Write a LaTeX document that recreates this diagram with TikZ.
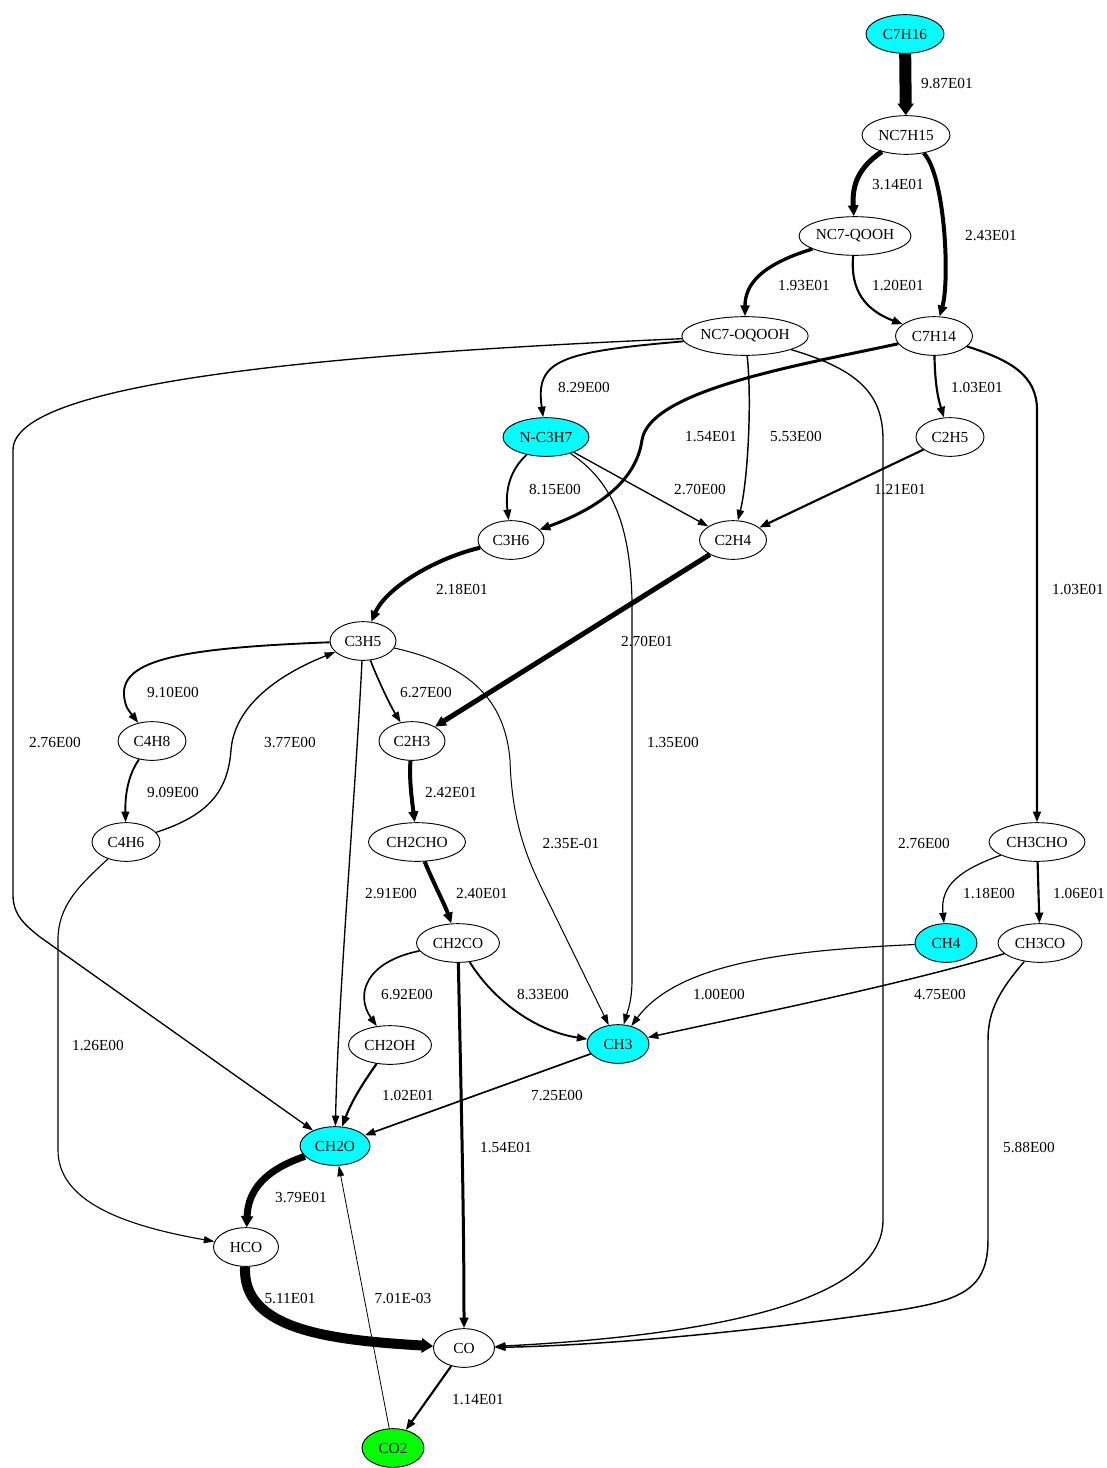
\documentclass[tikz,border=0pt]{standalone}
\usepackage{fontspec}
\setmainfont{Liberation Serif}
\usetikzlibrary{shapes.geometric,arrows.meta}
\definecolor{cy}{HTML}{00FFFF}
\definecolor{gr}{HTML}{00FF00}
\newcommand{\lblfont}{\fontsize{11.5}{13}\selectfont}
\begin{document}
\begin{tikzpicture}[x=0.75pt,y=-0.75pt,
  nd/.style={ellipse,draw,line width=0.7pt,inner sep=0pt,minimum height=29pt,minimum width=#1*0.75pt,font=\lblfont},
  cnd/.style={nd=#1,fill=cy},
  gnd/.style={nd=#1,fill=gr},
  lbl/.style={inner sep=0pt,font=\lblfont},
  edg/.style={draw,line width=#1,-{Triangle[length=7.8pt 0.1,width=4.6pt 0.8]}}]
\fill[white] (0,0) rectangle (1107,1468);
\useasboundingbox (0,0) rectangle (1107,1468);
% nodes
\node[cnd=78] (C7H16) at (905,34) {C7H16};
\node[nd=88] (NC7H15) at (906,135) {NC7H15};
\node[nd=112] (NC7QOOH) at (855,236) {NC7-QOOH};
\node[nd=122] (NC7OQOOH) at (745,336) {NC7-OQOOH};
\node[nd=77] (C7H14) at (934,336) {C7H14};
\node[cnd=86] (NC3H7) at (546,437) {N-C3H7};
\node[nd=68] (C2H5) at (950,437) {C2H5};
\node[nd=66] (C3H6) at (511,540) {C3H6};
\node[nd=67] (C2H4) at (733,540) {C2H4};
\node[nd=66] (C3H5) at (363,641) {C3H5};
\node[nd=68] (C4H8) at (152,741) {C4H8};
\node[nd=66] (C2H3) at (412,741) {C2H3};
\node[nd=68] (C4H6) at (126,842) {C4H6};
\node[nd=97] (CH2CHO) at (417,842) {CH2CHO};
\node[nd=96] (CH3CHO) at (1037,842) {CH3CHO};
\node[nd=83] (CH2CO) at (458,943) {CH2CO};
\node[cnd=62] (CH4) at (946,943) {CH4};
\node[nd=84] (CH3CO) at (1040,943) {CH3CO};
\node[nd=83] (CH2OH) at (390,1045) {CH2OH};
\node[cnd=62] (CH3) at (618,1044) {CH3};
\node[cnd=70] (CH2O) at (335,1146) {CH2O};
\node[nd=65] (HCO) at (246,1247) {HCO};
\node[nd=61] (CO) at (464,1348) {CO};
\node[gnd=62] (CO2) at (393,1448) {CO2};
% edges
\draw[edg=9pt] (C7H16) -- (NC7H15);
\draw[edg=3.75pt] (NC7H15) .. controls (858,168) and (852,185) .. (NC7QOOH);
\draw[edg=3pt] (NC7H15) .. controls (945,175) and (950,280) .. (C7H14);
\draw[edg=2.5pt] (NC7QOOH) .. controls (760,265) and (745,285) .. (NC7OQOOH);
\draw[edg=1.6pt] (NC7QOOH) .. controls (850,290) and (865,310) .. (C7H14);
\draw[edg=1pt] (NC7OQOOH) .. controls (300,355) and (13,385) .. (13,450) -- (13,895)
   .. controls (13,915) and (25,925) .. (40,937) -- (CH2O);
\draw[edg=1.4pt] (NC7OQOOH) .. controls (560,352) and (535,360) .. (NC3H7);
\draw[edg=1.1pt] (NC7OQOOH) .. controls (752,400) and (748,480) .. (C2H4);
\draw[edg=1pt] (NC7OQOOH) .. controls (860,370) and (883,395) .. (883,440) -- (883,1220)
   .. controls (883,1300) and (720,1335) .. (CO);
\draw[edg=2.25pt] (C7H14) .. controls (800,365) and (650,390) .. (642,440)
   .. controls (635,490) and (580,515) .. (C3H6);
\draw[edg=1.6pt] (C7H14) .. controls (935,380) and (937,395) .. (C2H5);
\draw[edg=1.6pt] (C7H14) .. controls (1010,360) and (1037,375) .. (1037,410) -- (CH3CHO);
\draw[edg=1.4pt] (NC3H7) .. controls (510,470) and (505,490) .. (C3H6);
\draw[edg=1pt] (NC3H7) -- (C2H4);
\draw[edg=0.85pt] (NC3H7) .. controls (610,480) and (630,520) .. (632,600) -- (632,980)
   .. controls (632,1000) and (628,1010) .. (CH3);
\draw[edg=1.6pt] (C2H5) -- (C2H4);
\draw[edg=3pt] (C3H6) .. controls (430,560) and (385,590) .. (C3H5);
\draw[edg=3.75pt] (C2H4) -- (C2H3);
\draw[edg=1.4pt] (C3H5) .. controls (180,648) and (122,660) .. (124,695)
   .. controls (125,708) and (130,712) .. (C4H8);
\draw[edg=1pt] (C4H6) .. controls (210,815) and (228,790) .. (231,750)
   .. controls (235,700) and (290,670) .. (C3H5);
\draw[edg=1.25pt] (C3H5) .. controls (378,680) and (390,705) .. (C2H3);
\draw[edg=0.75pt] (C3H5) .. controls (470,665) and (505,700) .. (510,760)
   .. controls (512,830) and (532,868) .. (545,895) -- (CH3);
\draw[edg=1pt] (C3H5) .. controls (355,800) and (338,1000) .. (CH2O);
\draw[edg=1.4pt] (C4H8) .. controls (128,775) and (125,795) .. (C4H6);
\draw[edg=0.85pt] (C4H6) .. controls (80,885) and (58,905) .. (58,940) -- (58,1150)
   .. controls (58,1200) and (120,1225) .. (HCO);
\draw[edg=3pt] (C2H3) .. controls (409,780) and (412,800) .. (CH2CHO);
\draw[edg=3pt] (CH2CHO) .. controls (432,880) and (445,905) .. (CH2CO);
\draw[edg=0.9pt] (CH3CHO) .. controls (960,870) and (940,885) .. (CH4);
\draw[edg=1.6pt] (CH3CHO) -- (CH3CO);
\draw[edg=1.25pt] (CH2CO) .. controls (365,962) and (355,995) .. (CH2OH);
\draw[edg=1.4pt] (CH2CO) .. controls (490,995) and (530,1030) .. (CH3);
\draw[edg=2.25pt] (CH2CO) .. controls (460,1050) and (464,1200) .. (CO);
\draw[edg=0.85pt] (CH4) .. controls (800,950) and (680,960) .. (CH3);
\draw[edg=1.1pt] (CH3CO) .. controls (900,985) and (750,1015) .. (CH3);
\draw[edg=1.1pt] (CH3CO) .. controls (1000,990) and (988,1010) .. (988,1040) -- (988,1240)
   .. controls (988,1290) and (960,1300) .. (900,1310)
   .. controls (780,1328) and (620,1345) .. (CO);
\draw[edg=1.6pt] (CH2OH) .. controls (365,1080) and (352,1100) .. (CH2O);
\draw[edg=1.25pt] (CH3) -- (CH2O);
\draw[edg=5.25pt] (CH2O) .. controls (265,1170) and (248,1190) .. (HCO);
\draw[edg=7.5pt] (HCO) .. controls (242,1330) and (330,1340) .. (CO);
\draw[edg=1.6pt] (CO) -- (CO2);
\draw[edg=0.6pt] (CO2) -- (CH2O);
% labels
\node[lbl] (l1) at (947,84) {9.87E01};
\node[lbl] (l2) at (898,185) {3.14E01};
\node[lbl] (l3) at (991,236) {2.43E01};
\node[lbl] (l4) at (804,286) {1.93E01};
\node[lbl] (l5) at (898,286) {1.20E01};
\node[lbl] (l6) at (584,388) {8.29E00};
\node[lbl] (l7) at (711,437) {1.54E01};
\node[lbl] (l8) at (796,437) {5.53E00};
\node[lbl] (l9) at (977,388) {1.03E01};
\node[lbl] (l10) at (700,490) {2.70E00};
\node[lbl] (l11) at (555,490) {8.15E00};
\node[lbl] (l12) at (900,490) {1.21E01};
\node[lbl] (l13) at (462,590) {2.18E01};
\node[lbl] (l14) at (647,641) {2.70E01};
\node[lbl] (l15) at (1078,590) {1.03E01};
\node[lbl] (l16) at (173,692) {9.10E00};
\node[lbl] (l17) at (426,692) {6.27E00};
\node[lbl] (l18) at (55,742) {2.76E00};
\node[lbl] (l19) at (290,742) {3.77E00};
\node[lbl] (l20) at (673,742) {1.35E00};
\node[lbl] (l21) at (173,792) {9.09E00};
\node[lbl] (l22) at (451,792) {2.42E01};
\node[lbl] (l23) at (571,843) {2.35E-01};
\node[lbl] (l24) at (924,843) {2.76E00};
\node[lbl] (l25) at (391,893) {2.91E00};
\node[lbl] (l26) at (482,893) {2.40E01};
\node[lbl] (l27) at (989,893) {1.18E00};
\node[lbl] (l28) at (1079,893) {1.06E01};
\node[lbl] (l29) at (407,994) {6.92E00};
\node[lbl] (l30) at (543,994) {8.33E00};
\node[lbl] (l31) at (719,994) {1.00E00};
\node[lbl] (l32) at (940,994) {4.75E00};
\node[lbl] (l33) at (98,1045) {1.26E00};
\node[lbl] (l34) at (408,1095) {1.02E01};
\node[lbl] (l35) at (557,1095) {7.25E00};
\node[lbl] (l36) at (506,1147) {1.54E01};
\node[lbl] (l37) at (1029,1147) {5.88E00};
\node[lbl] (l38) at (301,1197) {3.79E01};
\node[lbl] (l39) at (290,1298) {5.11E01};
\node[lbl] (l40) at (403,1298) {7.01E-03};
\node[lbl] (l41) at (478,1399) {1.14E01};
\end{tikzpicture}
\end{document}
